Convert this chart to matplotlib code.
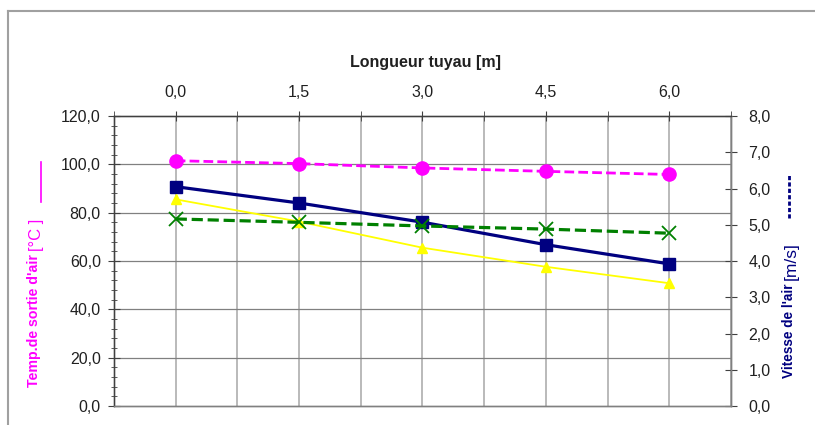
import numpy as np
import matplotlib
matplotlib.use("Agg")
import matplotlib.pyplot as plt
from matplotlib.ticker import FuncFormatter, MultipleLocator, FixedLocator
from matplotlib.lines import Line2D

plt.rcParams['font.family'] = ['Liberation Sans', 'DejaVu Sans']

# données
longueurs = ['0,0', '1,5', '3,0', '4,5', '6,0']
temp_sortie = [101.5, 100.3, 98.5, 97.1, 95.8]      # rose, axe gauche
serie_verte = [77.4, 76.0, 74.5, 73.2, 71.5]        # vert, axe gauche
serie_jaune = [85.5, 76.3, 65.5, 57.6, 50.8]        # jaune, axe gauche
vitesse_air = [6.05, 5.6, 5.07, 4.45, 3.92]         # bleu marine, axe droit

virgule = FuncFormatter(lambda v, p: ('%.1f' % v).replace('.', ','))

fig = plt.figure(figsize=(8.15, 4.25), dpi=100)
ax = fig.add_axes([114/815, 1-406/425, (731-114)/815, (406-116)/425])
ax2 = ax.twinx()
ax.set_zorder(ax2.get_zorder() + 1)
ax.patch.set_visible(False)

x = np.arange(len(longueurs))

ax.set_ylim(0, 120)
ax.set_xlim(-0.5, len(longueurs) - 0.5)
ax.yaxis.set_major_locator(MultipleLocator(20))
ax.yaxis.set_minor_locator(MultipleLocator(4))
ax.yaxis.set_major_formatter(virgule)

# grilles dessinées sous la courbe bleue (axe droit en dessous)
for v in np.arange(20, 120, 20):
    ax2.plot([0, 1], [v, v], transform=ax.get_yaxis_transform(), color='#808080', lw=0.9, zorder=0.5)
for xv in np.arange(-0.5, len(longueurs), 0.5):
    ax2.axvline(xv, color='#b4b4b4', lw=1.3, zorder=0.4)

# axe droit : vitesse
ax2.plot(x, vitesse_air, color='#000080', lw=2.3, marker='s', ms=8, zorder=3)
ax2.set_ylim(0, 8)
ax2.yaxis.set_major_locator(MultipleLocator(1))
ax2.yaxis.set_major_formatter(virgule)

# axe gauche
ax.plot(x, serie_jaune, color='#FFFF00', lw=1.3, marker='^', ms=7)
ax.plot(x, serie_verte, color='#008000', lw=2.3, ls=(0, (3.5, 1.5)), marker='x', ms=10, mew=1.3)
ax.plot(x, temp_sortie, color='#FF00FF', lw=2.0, ls=(0, (3.5, 1.5)), marker='o', ms=9.5)

ax.xaxis.tick_top()
ax.set_xticks(x)
ax.set_xticklabels(longueurs)
ax.xaxis.set_minor_locator(FixedLocator(np.arange(-0.5, len(longueurs), 1.0)))

for a in (ax, ax2):
    for s in a.spines.values():
        s.set_color('#808080')
        s.set_linewidth(1.0)
ax.spines['top'].set_color('#404040')
ax.spines['left'].set_color('#404040')

ax.tick_params(axis='x', which='both', direction='inout', length=7, color='#404040', labelsize=11.5, pad=8)
ax.tick_params(axis='y', which='major', direction='inout', length=9, color='#404040', labelsize=11.5, pad=5)
ax.tick_params(axis='y', which='minor', direction='inout', length=5, color='#404040')
ax2.tick_params(axis='y', direction='inout', length=9, color='#404040', labelsize=11.5, pad=8)
for t in ax.get_yticklabels() + ax2.get_yticklabels() + ax.get_xticklabels():
    t.set_color('#202020')

fig.text(425/815, 1-63/425, 'Longueur tuyau [m]', ha='center', va='center',
         fontsize=11.5, fontweight='bold', color='#202020')

# cadre extérieur
fig.add_artist(Line2D([8/815, 8/815], [0, 1-11/425], color='#a0a0a0', lw=1.5))
fig.add_artist(Line2D([8/815, 1], [1-11/425, 1-11/425], color='#a0a0a0', lw=1.5))

renderer = fig.canvas.get_renderer()


def titre_axe(xpix, ybas, gras, unite, couleur, taille_gras, taille_unite):
    t1 = fig.text(xpix/815, 1-ybas/425, gras, rotation=90, ha='center', va='bottom',
                  fontsize=taille_gras, fontweight='bold', color=couleur)
    bb = t1.get_window_extent(renderer)
    t2 = fig.text((xpix+2)/815, (bb.y1 + 3)/425, unite, rotation=90, ha='center', va='bottom',
                  fontsize=taille_unite, color=couleur)
    return t2.get_window_extent(renderer)


# titre axe gauche
titre_axe(34, 387, "Temp.de sortie d'air", '[°C ]', '#FF00FF', 10.2, 12)
fig.add_artist(Line2D([41/815, 41/815], [1-202/425, 1-162/425], color='#FF00FF', lw=1.2))

# titre axe droit
titre_axe(789, 378, "Vitesse de l'air", '[m/s]', '#000080', 9.8, 12.5)
fig.add_artist(Line2D([789/815, 789/815], [1-218/425, 1-174/425], color='#000080', lw=2,
                      ls=(0, (1.5, 0.8))))

fig.savefig('out.png', dpi=100)
